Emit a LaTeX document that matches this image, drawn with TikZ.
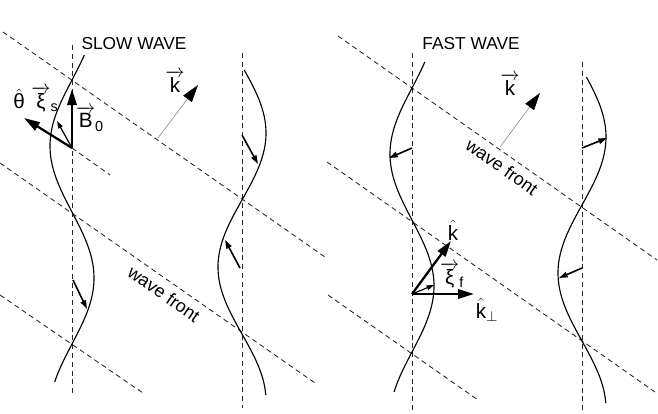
\documentclass[tikz,border=0pt]{standalone}
\usepackage{fontspec}
\setmainfont{Liberation Sans}
\usepackage{amsmath}
\usetikzlibrary{arrows.meta}
\newcommand{\vsf}[1]{\overrightarrow{\text{#1}}}
\begin{document}
\begin{tikzpicture}[x=0.75pt,y=-0.75pt,
  guide/.style={dash pattern=on 3.8pt off 2.8pt, line width=0.65pt, black!85},
  wave/.style={line width=0.85pt},
  bigarrow/.style={line width=1.7pt, -{Triangle[length=12pt,width=7pt]}},
  disparrow/.style={line width=1.2pt, -{Triangle[length=6.5pt,width=4.2pt]}},
  thinarrow/.style={line width=0.9pt, -{Triangle[length=5.5pt,width=3.6pt]}},
  karrow/.style={line width=0.4pt, black!50, -{Triangle[length=13pt,width=8pt,color=black]}},
  title/.style={font=\fontsize{13}{15}\selectfont, inner sep=0pt},
  lab/.style={font=\fontsize{15.5}{18}\selectfont, inner sep=0pt},
  frontlab/.style={font=\fontsize{13.5}{15}\selectfont, inner sep=0pt, rotate=-35}
]
\useasboundingbox (0,0) rectangle (658,414);

% ---------- left panel: slow wave ----------
\draw[guide] (72,45) -- (72,393);
\draw[guide] (242,53) -- (242,408);
\draw[guide] (3,32) -- (325,257);
\draw[guide] (0,163) -- (315,383);
\draw[guide] (0,295) -- (143,393);
\draw[guide] (72,148) -- (110,175);

\draw[wave] plot[domain=55:382, samples=120, smooth] ({72-22*sin(1.363636*(\x-80))}, \x);
\draw[wave] plot[domain=70:395, samples=120, smooth] ({242-24*sin(1.343284*(\x-200))}, \x);

\node[title] (slow) at (134,44) {SLOW WAVE};

\coordinate (O1) at (72,148);
\coordinate (B0tip) at (72,89);
\coordinate (thtip) at (24,118);
\coordinate (xstip) at (57,121);
\draw[bigarrow] (O1) -- (B0tip);
\draw[bigarrow] (O1) -- (thtip);
\draw[thinarrow] (O1) -- (xstip);
\node[lab] (B0) at (90,119) {$\vsf{B}_{\text{0}}$};
\node[lab] (theta) at (19,99) {$\hat{\text{θ}}$};
\node[lab] (xis) at (45,99) {$\vsf{ξ}_{\text{s}}$};

\coordinate (kLb) at (158,138);
\coordinate (kLt) at (198,85);
\draw[karrow] (kLb) -- (kLt);
\node[lab] (kL) at (175,81) {$\vsf{k}$};

\coordinate (dL1a) at (242,135);
\coordinate (dL1b) at (258,164);
\draw[disparrow] (dL1a) -- (dL1b);
\coordinate (dL2a) at (73,280);
\coordinate (dL2b) at (87,309);
\draw[disparrow] (dL2a) -- (dL2b);
\coordinate (dL3a) at (240,268);
\coordinate (dL3b) at (225,240);
\draw[disparrow] (dL3a) -- (dL3b);

\node[frontlab] (wfL) at (164,294) {wave front};

% ---------- right panel: fast wave ----------
\draw[guide] (412,53) -- (412,410);
\draw[guide] (582,62) -- (582,414);
\draw[guide] (338,36) -- (657,260);
\draw[guide] (327,162) -- (655,392);
\draw[guide] (328,295) -- (478,400);

\draw[wave] plot[domain=62:392, samples=120, smooth] ({412-22*sin(1.363636*(\x-88))}, \x);
\draw[wave] plot[domain=77:403, samples=120, smooth] ({582-24*sin(1.323529*(\x-205))}, \x);

\node[title] (fast) at (471,44) {FAST WAVE};

\coordinate (kRb) at (500,147);
\coordinate (kRt) at (540,93);
\draw[karrow] (kRb) -- (kRt);
\node[lab] (kR) at (510,84) {$\vsf{k}$};

\coordinate (dR1a) at (412,148);
\coordinate (dR1b) at (389,158);
\draw[disparrow] (dR1a) -- (dR1b);
\coordinate (dR2a) at (582,148);
\coordinate (dR2b) at (607,138);
\draw[disparrow] (dR2a) -- (dR2b);
\coordinate (dR3a) at (582,268);
\coordinate (dR3b) at (559,278);
\draw[disparrow] (dR3a) -- (dR3b);

\coordinate (O2) at (412,294);
\coordinate (khtip) at (451,241);
\coordinate (kptip) at (474,294);
\coordinate (xftip) at (434,285);
\draw[bigarrow] (O2) -- (khtip);
\draw[bigarrow] (O2) -- (kptip);
\draw[thinarrow] (O2) -- (xftip);
\node[lab] (khat) at (453,230) {$\hat{\text{k}}$};
\node[lab] (xif) at (452,275) {$\vsf{ξ}_{\text{f}}$};
\node[lab] (kperp) at (487,310) {$\hat{\text{k}}_{\perp}$};

\node[frontlab] (wfR) at (502,167) {wave front};
\end{tikzpicture}
\end{document}
